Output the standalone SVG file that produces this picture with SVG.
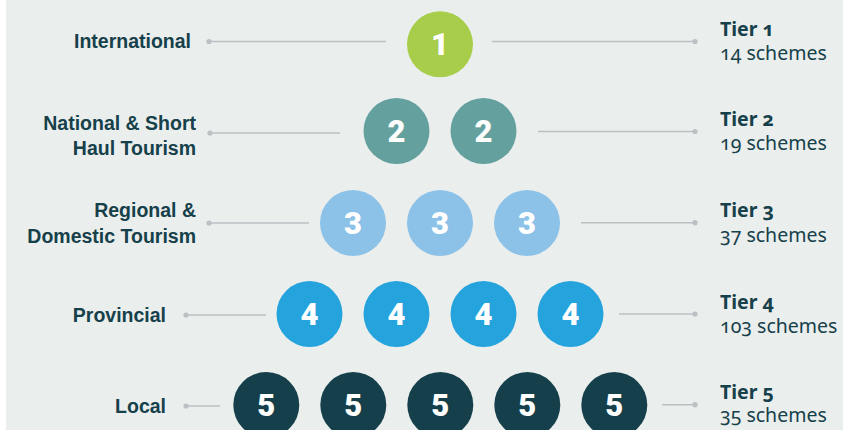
<svg xmlns="http://www.w3.org/2000/svg" width="843" height="430" viewBox="0 0 843 430">
  <style>
    .bg{fill:#EAEEED}
    .lbl{font-family:"Liberation Sans",Arial,sans-serif;font-weight:700;font-size:19.5px;fill:#16404A;text-anchor:end}
    .tier{font-family:"Noto Sans","Liberation Sans",sans-serif;font-size:19.5px;fill:#16404A;font-variant-numeric:oldstyle-nums;font-feature-settings:"onum" 1}
    .tier .b{font-weight:700}
    .num{font-family:Roboto,"Liberation Sans",sans-serif;font-weight:900;font-size:31px;fill:#ffffff;text-anchor:middle}
    .ln{stroke:#BBC0C3;stroke-width:1.5;fill:none}
    .dot{fill:#BBC0C3}
    .t1{fill:#A8CD4A}
    .t2{fill:#64A19E}
    .t3{fill:#8CC1E8}
    .t4{fill:#24A3DD}
    .t5{fill:#153F4A}
  </style>
  <rect x="0" y="0" width="843" height="430" fill="#ffffff"/>
  <rect class="bg" x="6" y="0" width="837" height="430"/>

  <g id="connectors">
    <line class="ln" x1="209" y1="41.5" x2="386" y2="41.5"/>
    <circle class="dot" cx="209" cy="41.5" r="2.6"/>
    <line class="ln" x1="492" y1="41.5" x2="695" y2="41.5"/>
    <circle class="dot" cx="695" cy="41.5" r="2.6"/>

    <line class="ln" x1="210" y1="133" x2="340" y2="133"/>
    <circle class="dot" cx="210" cy="133" r="2.6"/>
    <line class="ln" x1="538" y1="131.5" x2="695" y2="131.5"/>
    <circle class="dot" cx="695" cy="131.5" r="2.6"/>

    <line class="ln" x1="209" y1="223" x2="309" y2="223"/>
    <circle class="dot" cx="209" cy="223" r="2.6"/>
    <line class="ln" x1="581" y1="222.7" x2="695" y2="222.7"/>
    <circle class="dot" cx="695" cy="222.7" r="2.6"/>

    <line class="ln" x1="186" y1="315" x2="266" y2="315"/>
    <circle class="dot" cx="186" cy="315" r="2.6"/>
    <line class="ln" x1="619" y1="314" x2="695" y2="314"/>
    <circle class="dot" cx="695" cy="314" r="2.6"/>

    <line class="ln" x1="186" y1="406" x2="220" y2="406"/>
    <circle class="dot" cx="186" cy="406" r="2.6"/>
    <line class="ln" x1="662" y1="404.7" x2="695" y2="404.7"/>
    <circle class="dot" cx="695" cy="404.7" r="2.6"/>
  </g>

  <g id="label-international"><text class="lbl" x="191" y="48.3">International</text></g>
  <g id="label-national"><text class="lbl" x="196" y="130">National &amp; Short</text><text class="lbl" x="196" y="155">Haul Tourism</text></g>
  <g id="label-regional"><text class="lbl" x="196" y="217.3">Regional &amp;</text><text class="lbl" x="196" y="243.3">Domestic Tourism</text></g>
  <g id="label-provincial"><text class="lbl" x="166" y="321.7">Provincial</text></g>
  <g id="label-local"><text class="lbl" x="166" y="412.7">Local</text></g>

  <g id="tier1">
    <circle class="t1" cx="440" cy="44.3" r="33"/><text class="num" x="440" y="55.3">1</text>
  </g>
  <g id="tier2">
    <circle class="t2" cx="396.5" cy="131" r="33"/><text class="num" x="396.5" y="142">2</text>
    <circle class="t2" cx="483.5" cy="131" r="33"/><text class="num" x="483.5" y="142">2</text>
  </g>
  <g id="tier3">
    <circle class="t3" cx="353" cy="223" r="33"/><text class="num" x="353" y="234">3</text>
    <circle class="t3" cx="440" cy="223" r="33"/><text class="num" x="440" y="234">3</text>
    <circle class="t3" cx="527" cy="223" r="33"/><text class="num" x="527" y="234">3</text>
  </g>
  <g id="tier4">
    <circle class="t4" cx="309.5" cy="314" r="33"/><text class="num" x="309.5" y="325">4</text>
    <circle class="t4" cx="396.5" cy="314" r="33"/><text class="num" x="396.5" y="325">4</text>
    <circle class="t4" cx="483.5" cy="314" r="33"/><text class="num" x="483.5" y="325">4</text>
    <circle class="t4" cx="570.5" cy="314" r="33"/><text class="num" x="570.5" y="325">4</text>
  </g>
  <g id="tier5">
    <circle class="t5" cx="266.3" cy="405" r="33"/><text class="num" x="266.3" y="416">5</text>
    <circle class="t5" cx="353.3" cy="405" r="33"/><text class="num" x="353.3" y="416">5</text>
    <circle class="t5" cx="440.3" cy="405" r="33"/><text class="num" x="440.3" y="416">5</text>
    <circle class="t5" cx="527.3" cy="405" r="33"/><text class="num" x="527.3" y="416">5</text>
    <circle class="t5" cx="614.3" cy="405" r="33"/><text class="num" x="614.3" y="416">5</text>
  </g>

  <g id="tier1-info"><text class="tier" x="720" y="35.5"><tspan class="b">Tier 1</tspan><tspan x="720" y="60">14 schemes</tspan></text></g>
  <g id="tier2-info"><text class="tier" x="720" y="126"><tspan class="b">Tier 2</tspan><tspan x="720" y="150">19 schemes</tspan></text></g>
  <g id="tier3-info"><text class="tier" x="720" y="216.7"><tspan class="b">Tier 3</tspan><tspan x="720" y="241.7">37 schemes</tspan></text></g>
  <g id="tier4-info"><text class="tier" x="720" y="309.3"><tspan class="b">Tier 4</tspan><tspan x="720" y="333.3">103 schemes</tspan></text></g>
  <g id="tier5-info"><text class="tier" x="720" y="398.5"><tspan class="b">Tier 5</tspan><tspan x="720" y="421.7">35 schemes</tspan></text></g>
</svg>
